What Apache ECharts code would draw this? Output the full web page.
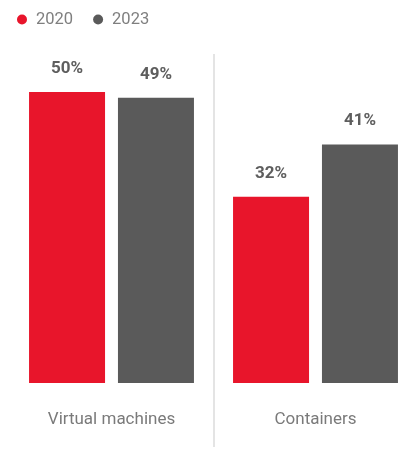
<!DOCTYPE html>
<html>
<head>
<meta charset="utf-8">
<script src="https://cdn.jsdelivr.net/npm/echarts@6/dist/echarts.min.js"></script>
<style>
  html, body { margin: 0; padding: 0; background: #fff; }
  #chart { width: 398px; height: 449px; }
</style>
</head>
<body>
<div id="chart"></div>
<script>
// Workload types and share of respondents per survey year
const categories = ['Virtual machines', 'Containers'];
const years = ['2020', '2023'];
const share2020 = [50, 32];
const share2023 = [49, 41];

const RED = '#e8152b';
const GREY = '#5a5a5a';

const chart = echarts.init(document.getElementById('chart'), null, { renderer: 'canvas' });

function barSeries(name, data, color) {
  return {
    name: name,
    type: 'bar',
    data: data,
    barWidth: 76,
    barGap: '17%',
    itemStyle: { color: color },
    label: {
      show: true,
      position: 'top',
      distance: 15,
      formatter: '{c}%',
      fontFamily: 'Roboto',
      fontWeight: 'bold',
      fontSize: 17,
      color: '#5e5e5e'
    }
  };
}

chart.setOption({
  animation: false,
  backgroundColor: '#ffffff',
  legend: {
    data: years,
    left: 12,
    top: 6,
    icon: 'circle',
    itemWidth: 10,
    itemHeight: 10,
    itemGap: 20,
    textStyle: {
      fontFamily: 'Roboto',
      fontSize: 16.5,
      color: '#7f7f7f',
      padding: [0, 0, 0, 4]
    }
  },
  grid: {
    left: 9.5,
    width: 408,
    top: 33.8,
    bottom: 66,
    containLabel: false,
    outerBoundsMode: 'none'
  },
  xAxis: {
    type: 'category',
    data: categories,
    axisLine: { show: false },
    axisTick: { show: false },
    axisLabel: {
      margin: 28,
      fontFamily: 'Roboto',
      fontSize: 17,
      color: '#7a7a7a'
    }
  },
  yAxis: {
    type: 'value',
    min: 0,
    max: 60,
    show: false,
    splitLine: { show: false }
  },
  series: [
    barSeries(years[0], share2020, RED),
    barSeries(years[1], share2023, GREY)
  ]
});

// Thin divider between the two category groups
const c0 = chart.convertToPixel({ xAxisIndex: 0 }, categories[0]);
const c1 = chart.convertToPixel({ xAxisIndex: 0 }, categories[1]);
const divX = Math.round((c0 + c1) / 2);
chart.setOption({
  graphic: [{
    type: 'line',
    shape: { x1: divX, y1: 54, x2: divX, y2: 447 },
    style: { stroke: '#e4e4e4', lineWidth: 2 },
    z: -1
  }]
});
</script>
</body>
</html>
